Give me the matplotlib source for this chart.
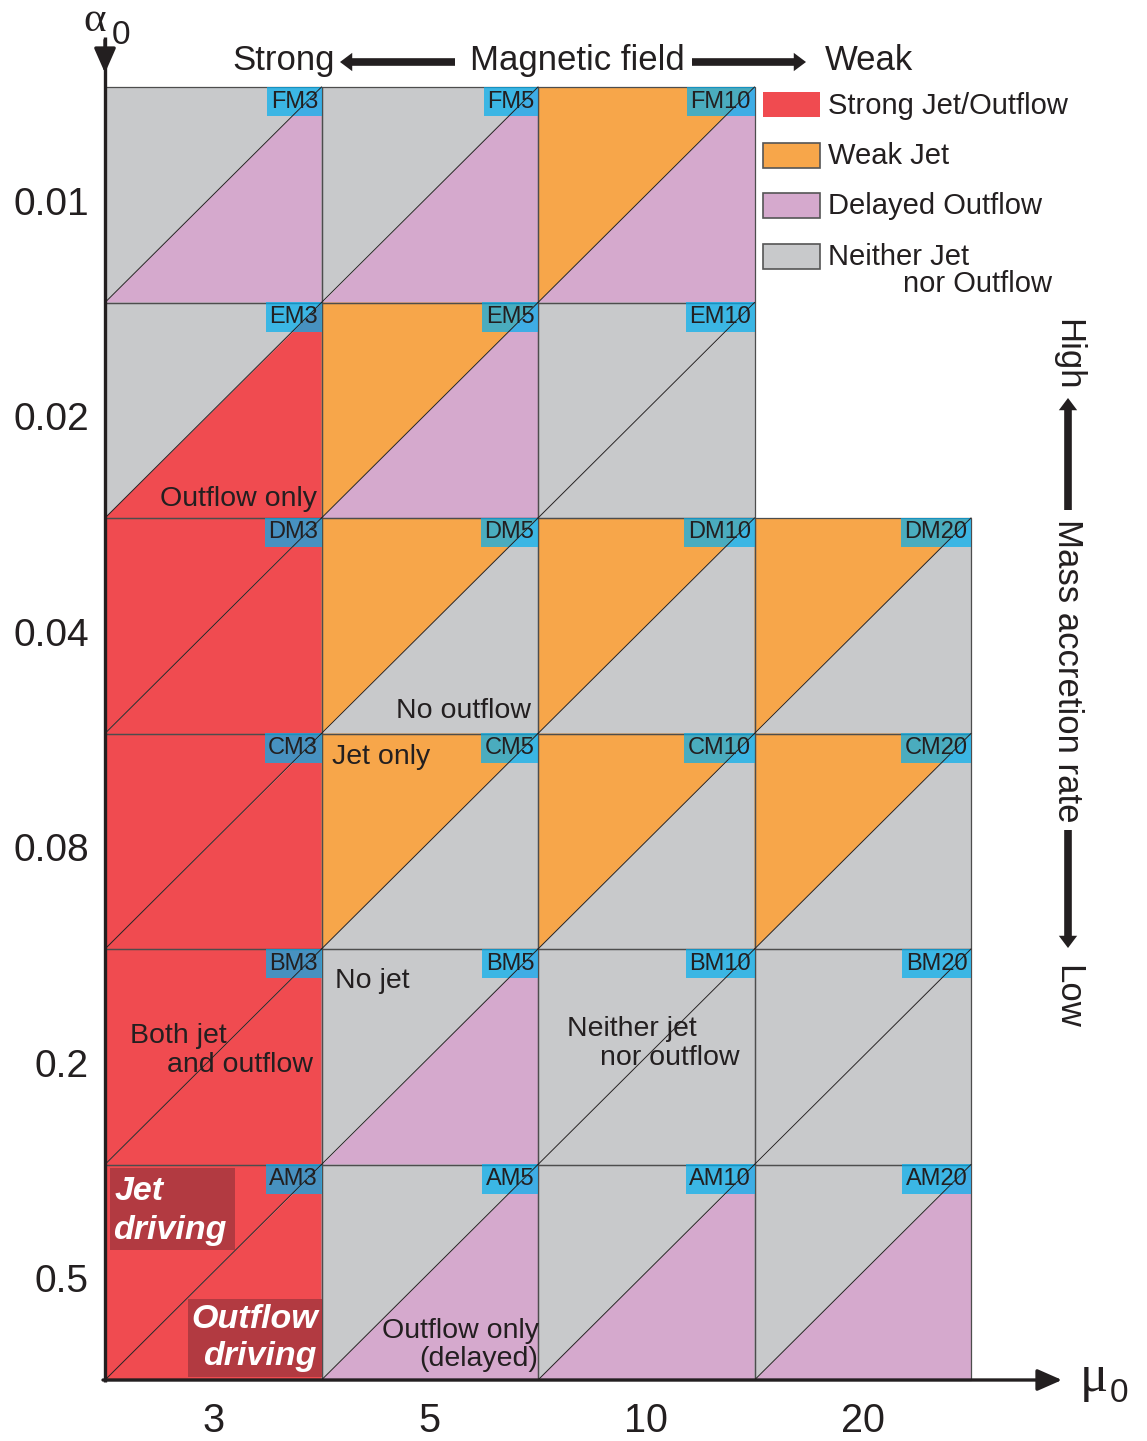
import matplotlib.pyplot as plt
from matplotlib.patches import Polygon, Rectangle

plt.rcParams['font.family'] = ['Liberation Sans', 'DejaVu Sans']

mu_values = ['3', '5', '10', '20']
alpha_values = ['0.01', '0.02', '0.04', '0.08', '0.2', '0.5']
run_prefix = ['F', 'E', 'D', 'C', 'B', 'A']

# jet result (upper-left triangle), rows from alpha=0.01 down; None = no run
jet_state = [
    ['none', 'none', 'weak', None],
    ['none', 'weak', 'none', None],
    ['strong', 'weak', 'weak', 'weak'],
    ['strong', 'weak', 'weak', 'weak'],
    ['strong', 'none', 'none', 'none'],
    ['strong', 'none', 'none', 'none'],
]
# outflow result (lower-right triangle)
outflow_state = [
    ['delayed', 'delayed', 'delayed', None],
    ['strong', 'delayed', 'none', None],
    ['strong', 'none', 'none', 'none'],
    ['strong', 'none', 'none', 'none'],
    ['strong', 'delayed', 'none', 'none'],
    ['strong', 'delayed', 'delayed', 'delayed'],
]

state_colors = {'strong': '#f04b50', 'weak': '#f7a64a',
                'delayed': '#d5a9cd', 'none': '#c8c9cb'}
legend_keys = ['strong', 'weak', 'delayed', 'none']
legend_labels = ['Strong Jet/Outflow', 'Weak Jet', 'Delayed Outflow', 'Neither Jet']

INK = '#231f20'
W, H = 1147, 1441
X0, Y0 = 105, 87          # top-left corner of the grid in pixels
CW, CH = 216.5, 215.5     # cell size in pixels


def P(x, y):
    # pixel position -> cell units
    return ((x - X0) / CW, (y - Y0) / CH)


fig = plt.figure(figsize=(W / 100, H / 100), dpi=100)
ax = fig.add_axes([0, 0, 1, 1])
ax.set_xlim(-X0 / CW, (W - X0) / CW)
ax.set_ylim((H - Y0) / CH, -Y0 / CH)
ax.axis('off')

# cells
for i, row in enumerate(jet_state):
    for j, js in enumerate(row):
        if js is None:
            continue
        ofl = outflow_state[i][j]
        ax.add_patch(Polygon([(j, i), (j + 1, i), (j, i + 1)], closed=True,
                             fc=state_colors[js], ec='none', zorder=1))
        ax.add_patch(Polygon([(j + 1, i), (j + 1, i + 1), (j, i + 1)], closed=True,
                             fc=state_colors[ofl], ec='none', zorder=1))
        ax.add_patch(Rectangle((j, i), 1, 1, fill=False, ec='#4d4d4d', lw=0.9, zorder=2))
        ax.text(j + 1 - 3.5 / CW, i + 3.5 / CH, f'{run_prefix[i]}M{mu_values[j]}',
                ha='right', va='top', fontsize=17, color=INK, zorder=3,
                bbox=dict(boxstyle='square,pad=0.15', fc='#00aff0', ec='none', alpha=0.7))
        ax.plot([j, j + 1], [i + 1, i], color=INK, lw=0.7, zorder=4)

# tick labels
for i, lab in enumerate(alpha_values):
    ax.text(-16 / CW, i + 0.5 + 10 / CH, lab, ha='right', va='center', fontsize=28, color=INK)
for j, lab in enumerate(mu_values):
    ax.text(j + 0.5, 6 + 41 / CH, lab, ha='center', va='center', fontsize=28.5, color=INK)

# axes with arrows
axis_arrow = dict(arrowstyle='-|>,head_length=0.5,head_width=0.22', mutation_scale=30,
                  lw=2.4, color=INK, shrinkA=0, shrinkB=0)
ax.plot([0, 0], [P(X0, 37)[1], 6 + 1.5 / CH], color=INK, lw=2.4, solid_capstyle='butt', zorder=5)
ax.annotate('', xy=P(X0, 73), xytext=P(X0, 40), arrowprops=axis_arrow, zorder=5)
ax.annotate('', xy=P(1062, 1380), xytext=P(103, 1380), arrowprops=axis_arrow, zorder=5)
greek = dict(color=INK, family='Liberation Serif', ha='center', va='baseline')
ax.text(*P(95, 31), 'α', fontsize=31, **greek)
ax.text(*P(112, 36), '0', fontsize=24, color=INK, ha='left', va='center')
ax.text(*P(1094, 1391), 'μ', fontsize=38, **greek)
ax.text(*P(1110, 1393), '0', fontsize=24, color=INK, ha='left', va='center')

# magnetic field strength header
thick_arrow = dict(arrowstyle='simple,head_length=0.8,head_width=1.2,tail_width=0.5',
                   mutation_scale=11, fc=INK, ec='none', shrinkA=0, shrinkB=0)
ax.text(*P(284, 70), 'Strong', fontsize=25, color=INK, ha='center', va='baseline')
ax.text(*P(577, 70), 'Magnetic field', fontsize=25, color=INK, ha='center', va='baseline')
ax.text(*P(869, 70), 'Weak', fontsize=25, color=INK, ha='center', va='baseline')
ax.annotate('', xy=P(340, 62), xytext=P(455, 62), arrowprops=thick_arrow)
ax.annotate('', xy=P(806, 62), xytext=P(692, 62), arrowprops=thick_arrow)

# mass accretion rate on the right
ax.text(*P(1068, 355), 'High', fontsize=25, color=INK, ha='center', va='center', rotation=270)
ax.text(*P(1068, 671), 'Mass accretion rate', fontsize=25, color=INK, ha='center',
        va='center', rotation=270)
ax.text(*P(1068, 997), 'Low', fontsize=25, color=INK, ha='center', va='center', rotation=270)
ax.annotate('', xy=P(1068, 398), xytext=P(1068, 510), arrowprops=thick_arrow)
ax.annotate('', xy=P(1068, 948), xytext=P(1068, 830), arrowprops=thick_arrow)

# legend
for k, (key, lab) in enumerate(zip(legend_keys, legend_labels)):
    top = 92 + 50.5 * k
    ax.add_patch(Rectangle(P(763, top), 57 / CW, 25 / CH, fc=state_colors[key],
                           ec='none' if key == 'strong' else '#555555', lw=1.2))
    ax.text(*P(828, top + 13.5), lab, fontsize=21, color=INK, ha='left', va='center')
ax.text(*P(1052, 284), 'nor Outflow', fontsize=21, color=INK, ha='right', va='center')

# regime annotations inside the cells
notes = [
    ('Outflow only', 317, 498, 'right'),
    ('No outflow', 531, 710, 'right'),
    ('Jet only', 332, 756, 'left'),
    ('No jet', 335, 980, 'left'),
    ('Neither jet', 567, 1028, 'left'),
    ('nor outflow', 740, 1057, 'right'),
    ('Both jet', 130, 1035, 'left'),
    ('and outflow', 313, 1064, 'right'),
    ('Outflow only', 539, 1330, 'right'),
    ('(delayed)', 538, 1358, 'right'),
]
for txt, x, y, ha in notes:
    ax.text(*P(x, y + 1), txt, fontsize=20.5, color=INK, ha=ha, va='center', zorder=6)

# driving mechanism tags
ax.add_patch(Rectangle(P(110, 1168), 125 / CW, 82 / CH, fc='#b23a41', ec='none', zorder=5))
ax.add_patch(Rectangle(P(188, 1299), 134 / CW, 78 / CH, fc='#b23a41', ec='none', zorder=5))
bold = dict(fontsize=24.5, color='white', fontweight='bold', fontstyle='italic', zorder=6)
ax.text(*P(115, 1191), 'Jet', ha='left', va='center', **bold)
ax.text(*P(113, 1231), 'driving', ha='left', va='center', **bold)
ax.text(*P(318, 1320), 'Outflow', ha='right', va='center', **bold)
ax.text(*P(316, 1357), 'driving', ha='right', va='center', **bold)

fig.savefig('out.png', dpi=100)
